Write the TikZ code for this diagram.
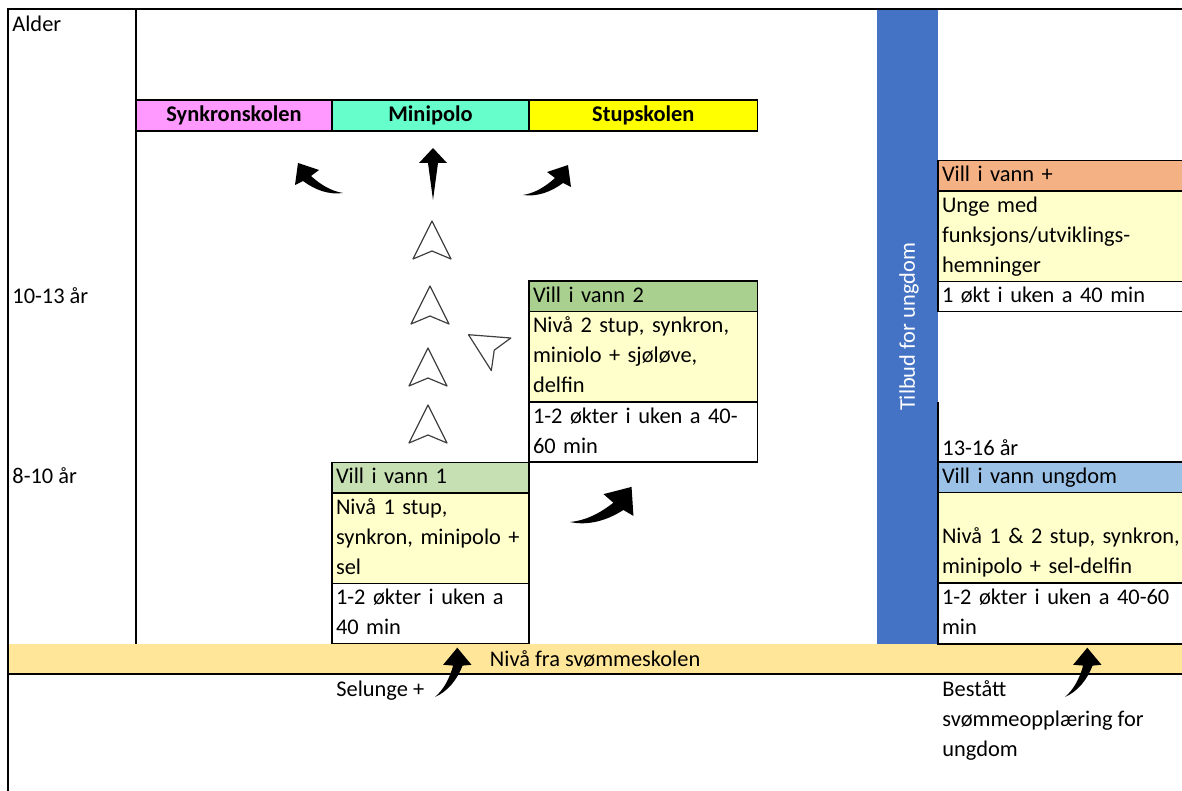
\documentclass[tikz,border=0pt]{standalone}
\usepackage{fontspec}
\setmainfont{Carlito}
\usetikzlibrary{positioning}

\definecolor{synkpink}{HTML}{FF99FF}
\definecolor{poloaqua}{HTML}{66FFCC}
\definecolor{stupyellow}{HTML}{FFFF00}
\definecolor{lightgreen}{HTML}{C6E0B4}
\definecolor{midgreen}{HTML}{A9D08E}
\definecolor{paleyellow}{HTML}{FFFFCC}
\definecolor{peach}{HTML}{F4B183}
\definecolor{skyblue}{HTML}{9BC2E6}
\definecolor{barblue}{HTML}{4472C4}
\definecolor{bandtan}{HTML}{FFE699}

\newcommand{\txt}{\fontsize{11.2}{15}\selectfont}

\tikzset{
    cell/.style={draw, line width=0.9pt, fill=white, inner xsep=2pt, inner ysep=0pt, outer sep=0pt, anchor=north west, align=left, font=\txt},
    headcell/.style={cell, minimum height=15.25pt},
    school/.style={draw, line width=0.9pt, inner sep=0pt, outer sep=0pt, minimum height=15.5pt, font=\txt\bfseries},
    plain/.style={inner sep=0pt, font=\txt},
    bendarrow/.pic={\fill (0,0) .. controls (14,2) and (28,-3) .. (40,-12) -- (48,-8) -- (45,-30) -- (24,-23) -- (32,-17) .. controls (22,-8) and (12,-2) .. (0,0) -- cycle;},
    navarrow/.pic={\draw[line width=0.6pt, line join=round, black!75] (0,-19) -- (19,19) -- (0,11) -- (-19,19) -- cycle;}
}

\begin{document}
\begin{tikzpicture}[x=0.5pt, y=-0.5pt]
    \useasboundingbox (0,0) rectangle (1182,791);
    \fill[bandtan] (8,643.5) rectangle (1192,674);
    \fill[barblue] (877,9) rectangle (938,643.5);
    \draw[line width=0.9pt] (8,800) -- (8,9) -- (1192,9);
    \draw[line width=0.9pt] (136,9) -- (136,643.5);
    \draw[line width=0.9pt] (8,674) -- (1192,674);
    \draw[line width=0.9pt] (938,402) -- (938,643.5);

    \node[plain, anchor=base west] (alder) at (12,31.5) {Alder};
    \node[plain, anchor=base west] (age1013) at (12,303) {10-13 år};
    \node[plain, anchor=base west] (age810) at (12,483) {8-10 år};
    \node[plain, anchor=base west] (age1316) at (942,455) {13-16 år};

    \node[school, fill=synkpink, minimum width=98pt, anchor=north west] (synk) at (136,100) {Synkronskolen};
    \node[school, fill=poloaqua, minimum width=98.5pt, right=0pt of synk] (polo) {Minipolo};
    \node[school, fill=stupyellow, minimum width=114.25pt, right=0pt of polo] (stup) {Stupskolen};

    \node[headcell, fill=lightgreen, text width=94.5pt] (vv1) at (332,462.5) {\strut Vill i vann 1};
    \node[cell, fill=paleyellow, text width=94.5pt, minimum height=45.25pt, below=0pt of vv1] (vv1body) {\strut Nivå 1 stup,\\synkron, minipolo +\\sel\strut};
    \node[cell, text width=94.5pt, minimum height=30pt, below=0pt of vv1body] (vv1time) {\strut 1-2 økter i uken a\\40 min\strut};

    \node[headcell, fill=midgreen, text width=110.25pt] (vv2) at (529,281) {\strut Vill i vann 2};
    \node[cell, fill=paleyellow, text width=110.25pt, minimum height=45.25pt, below=0pt of vv2] (vv2body) {\strut Nivå 2 stup, synkron,\\miniolo + sjøløve,\\delfin\strut};
    \node[cell, text width=110.25pt, minimum height=30pt, below=0pt of vv2body] (vv2time) {\strut 1-2 økter i uken a 40-\\60 min\strut};

    \node[headcell, fill=peach, text width=123pt] (vvplus) at (938,160.5) {\strut Vill i vann +};
    \node[cell, fill=paleyellow, text width=123pt, minimum height=45.25pt, below=0pt of vvplus] (vvplusbody) {\strut Unge med\\funksjons/utviklings-\\hemninger\strut};
    \node[cell, text width=123pt, minimum height=15pt, below=0pt of vvplusbody] (vvplustime) {\strut 1 økt i uken a 40 min};

    \node[headcell, fill=skyblue, text width=123pt] (vvung) at (938,462) {\strut Vill i vann ungdom};
    \node[cell, fill=paleyellow, text width=123pt, minimum height=45.25pt, below=0pt of vvung] (vvungbody) {\strut\\Nivå 1 \& 2 stup, synkron,\\minipolo + sel-delfin\strut};
    \node[cell, text width=123pt, minimum height=30.5pt, below=0pt of vvungbody] (vvungtime) {\strut 1-2 økter i uken a 40-60\\min\strut};

    \node[plain, rotate=90, text=white] (tilbud) at (909,327) {Tilbud for ungdom};
    \node[plain, anchor=base west] (niva) at (489.5,666.5) {Nivå fra svømmeskolen};
    \node[plain, anchor=base west] (selunge) at (336,696.5) {Selunge +};
    \node[plain, anchor=north west, align=left] (bestatt) at (942,675.5) {\strut Bestått\\svømmeopplæring for\\ungdom\strut};

    \fill (433,148) -- (447,163) -- (438,163) -- (433,200) -- (428,163) -- (419,163) -- cycle;
    \pic at (523,195) {bendarrow};
    \pic[xscale=-1] at (343,193) {bendarrow};
    \pic[scale=1.31, rotate=-4] at (570,522) {bendarrow};
    \pic[rotate=32] at (435,697) {bendarrow};
    \pic[rotate=32] at (1065,697) {bendarrow};

    \pic at (432,240) {navarrow};
    \pic at (430,305) {navarrow};
    \pic at (428,367) {navarrow};
    \pic at (428,424) {navarrow};
    \pic[rotate=59] at (484.8,344.5) {navarrow};
\end{tikzpicture}
\end{document}
